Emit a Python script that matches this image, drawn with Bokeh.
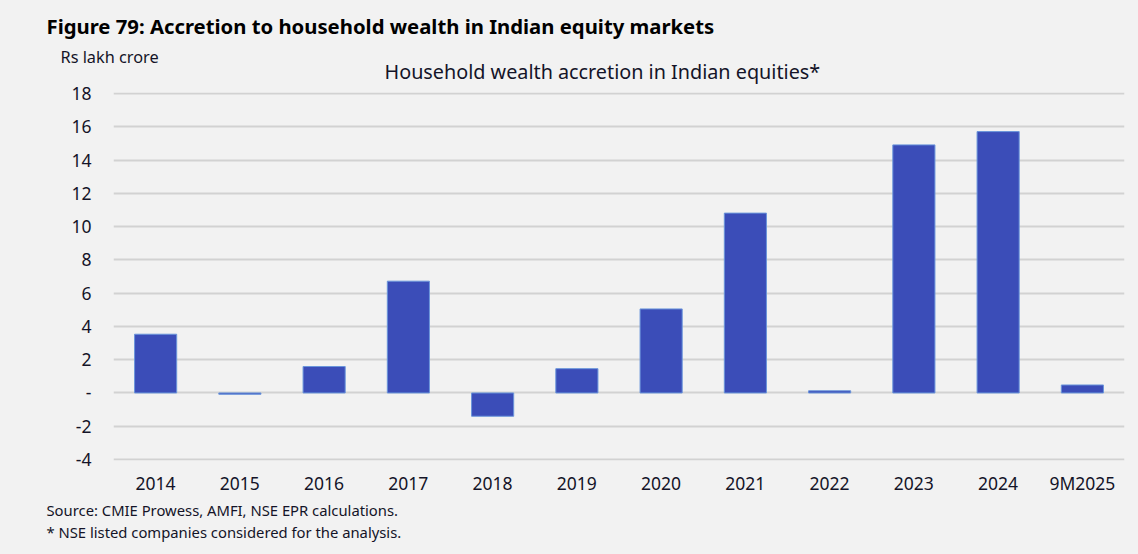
from bokeh.plotting import figure
from bokeh.models import FixedTicker, Label, FactorRange, Range1d
from bokeh.layouts import column
from bokeh.embed import file_html
from bokeh.resources import INLINE
from jinja2 import Template

categories = ["2014", "2015", "2016", "2017", "2018", "2019", "2020",
              "2021", "2022", "2023", "2024", "9M2025"]
values = [3.53, -0.08, 1.59, 6.72, -1.40, 1.46, 5.05, 10.81, 0.13, 14.91, 15.71, 0.48]
y_ticks = [-4, -2, 0, 2, 4, 6, 8, 10, 12, 14, 16, 18]
y_tick_labels = {-4: "-4", -2: "-2", 0: "-"}

BG = "#F2F2F2"
TXT = "#141428"
FONT = "Noto Sans"
W = 1138
HEAD_H, OVERLAP, MAIN_H, FOOT_H = 88, 14, 424, 56


def text_panel(height):
    f = figure(width=W, height=height, output_backend="svg", toolbar_location=None,
               x_axis_type=None, y_axis_type=None, title=None,
               x_range=Range1d(0, 1), y_range=Range1d(0, 1))
    f.frame_align = False
    f.min_border_left = f.min_border_right = f.min_border_top = f.min_border_bottom = 0
    f.background_fill_color = BG
    f.border_fill_color = BG
    f.outline_line_color = None
    f.xgrid.visible = False
    f.ygrid.visible = False
    return f


def add_text(f, txt, px, center_from_top, size, style="normal", color=TXT):
    f.add_layout(Label(x=px, y=f.height - center_from_top, x_units="screen", y_units="screen",
                       text=txt, text_font=FONT, text_font_size=size,
                       text_font_style=style, text_color=color,
                       text_align="left", text_baseline="middle"))


head = text_panel(HEAD_H)
add_text(head, "Figure 79: Accretion to household wealth in Indian equity markets", 46, 25.2,
         "20.3px", "bold", "#000000")
add_text(head, "Rs lakh crore", 60, 56.8, "16.3px")
add_text(head, "Household wealth accretion in Indian equities*", 384, 71.2, "19.8px")

p = figure(x_range=FactorRange(*categories), y_range=Range1d(-4.06, 18.06),
           width=W, height=MAIN_H, output_backend="svg", toolbar_location=None, title=None)
p.frame_align = False
p.margin = (-OVERLAP, 0, 0, 0)
p.min_border_left = 113
p.min_border_right = 14
p.min_border_top = 92 - (HEAD_H - OVERLAP)
p.min_border_bottom = 38
p.background_fill_color = BG
p.border_fill_color = None
p.outline_line_color = None

p.vbar(x=categories, top=values, bottom=0, width=0.5,
       fill_color="#3B4DB8", line_color="#6A95DB", line_width=1)

p.xgrid.grid_line_color = None
p.ygrid.grid_line_color = "#D2D2D2"
p.ygrid.grid_line_width = 2
p.ygrid.ticker = FixedTicker(ticks=y_ticks)

p.yaxis.ticker = FixedTicker(ticks=y_ticks)
p.yaxis.major_label_overrides = y_tick_labels
for ax in (p.xaxis, p.yaxis):
    ax.axis_line_color = None
    ax.major_tick_line_color = None
    ax.minor_tick_line_color = None
    ax.major_tick_out = 0
    ax.major_tick_in = 0
    ax.major_label_text_font = FONT
    ax.major_label_text_font_size = "17.5px"
    ax.major_label_text_color = TXT
p.yaxis.major_label_standoff = 22
p.xaxis.major_label_standoff = 10

foot = text_panel(FOOT_H)
add_text(foot, "Source: CMIE Prowess, AMFI, NSE EPR calculations.", 46, 11.2, "14.8px")
add_text(foot, "* NSE listed companies considered for the analysis.", 46, 33.2, "14.8px")

layout = column(head, p, foot, spacing=0)

template = Template("""{% extends base %}
{% block postamble %}<style>html, body { background: #F2F2F2; }</style>{% endblock %}""")

open("out.html", "w").write(file_html(layout, INLINE, template=template))
